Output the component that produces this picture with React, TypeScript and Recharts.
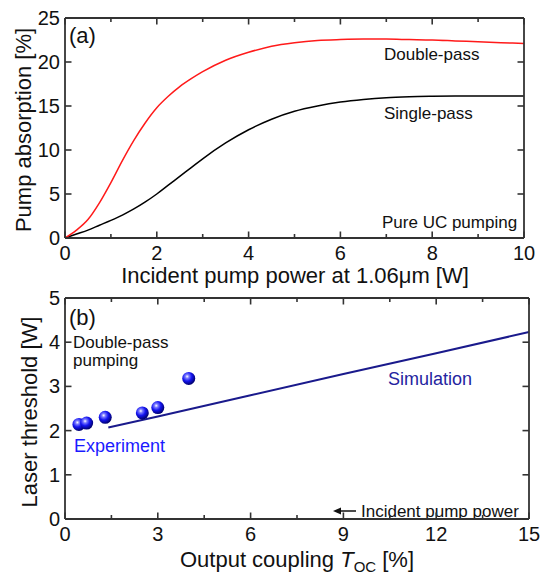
import React from 'react';
import { LineChart, ComposedChart, Line, Scatter, XAxis, YAxis } from 'recharts';

// panel (a): pump absorption vs incident pump power
const pumpPower = [0, 0.25, 0.5, 0.75, 1, 1.25, 1.5, 1.75, 2, 2.25, 2.5, 2.75, 3, 3.5, 4, 4.5, 5, 5.5, 6, 6.5, 7, 7.5, 8, 8.5, 9, 9.5, 10];
const doublePass = [0, 0.9, 2.1, 4.0, 6.3, 8.8, 11.1, 13.1, 14.8, 16.1, 17.2, 18.1, 18.9, 20.2, 21.1, 21.8, 22.2, 22.45, 22.55, 22.6, 22.6, 22.55, 22.5, 22.4, 22.3, 22.2, 22.1];
const singlePass = [0, 0.45, 0.9, 1.45, 2.0, 2.6, 3.3, 4.1, 5.0, 6.0, 7.0, 8.0, 9.0, 10.8, 12.3, 13.5, 14.4, 15.0, 15.45, 15.75, 15.95, 16.05, 16.1, 16.13, 16.15, 16.15, 16.15];
const absXTicks = [0, 1, 2, 3, 4, 5, 6, 7, 8, 9, 10];
const absXMajor = [0, 2, 4, 6, 8, 10];
const absYTicks = [0, 2.5, 5, 7.5, 10, 12.5, 15, 17.5, 20, 22.5, 25];
const absYMajor = [0, 5, 10, 15, 20, 25];

// panel (b): laser threshold vs output coupling
const expCoupling = [0.45, 0.7, 1.3, 2.5, 3.0, 4.0];
const expThreshold = [2.14, 2.17, 2.3, 2.4, 2.52, 3.18];
const simCoupling = [1.4, 3, 6, 9, 12, 15];
const simThreshold = [2.07, 2.32, 2.8, 3.28, 3.75, 4.23];
const thrXTicks = [0, 1.5, 3, 4.5, 6, 7.5, 9, 10.5, 12, 13.5, 15];
const thrXMajor = [0, 3, 6, 9, 12, 15];
const thrYTicks = [0, 0.5, 1, 1.5, 2, 2.5, 3, 3.5, 4, 4.5, 5];
const thrYMajor = [0, 1, 2, 3, 4, 5];

const absData = pumpPower.map((x, i) => ({ x, dp: doublePass[i], sp: singlePass[i] }));
const expData = expCoupling.map((x, i) => ({ x, y: expThreshold[i] }));
const simData = simCoupling.map((x, i) => ({ x, y: simThreshold[i] }));

const FONT = '"Liberation Sans", Arial, sans-serif';
const FRAME = '#333';

const isMajor = (v: number, majors: number[]) => majors.some((m) => Math.abs(m - v) < 1e-6);

// inward tick marks (major/minor); labels only for majors on bottom/left
const makeTick = (side: 'bottom' | 'left' | 'top' | 'right', majors: number[]) => (props: any) => {
  const { x, y, payload } = props;
  const v = payload.value;
  const major = isMajor(v, majors);
  const len = major ? 6.5 : 4;
  let x2 = x;
  let y2 = y;
  if (side === 'bottom') y2 = y - len;
  else if (side === 'top') y2 = y + len;
  else if (side === 'left') x2 = x + len;
  else x2 = x - len;
  let label = null;
  if (major && side === 'bottom') {
    label = (
      <text x={x} y={y + 22} textAnchor="middle" fontSize={20} fontFamily={FONT} fill="#111">
        {v}
      </text>
    );
  } else if (major && side === 'left') {
    label = (
      <text x={x - 5} y={y + 7} textAnchor="end" fontSize={20} fontFamily={FONT} fill="#111">
        {v}
      </text>
    );
  }
  return (
    <g>
      <line x1={x} y1={y} x2={x2} y2={y2} stroke={FRAME} strokeWidth={1.6} />
      {label}
    </g>
  );
};

const Sphere = (props: any) => {
  const { cx, cy } = props;
  return <circle cx={cx} cy={cy} r={6.5} fill="url(#sphereGrad)" />;
};

const frameLine = { stroke: FRAME, strokeWidth: 1.8 };

export default function App() {
  const txt = { fontFamily: FONT, fill: '#111' };
  return (
    <div style={{ position: 'absolute', left: 0, top: 0, width: 540, height: 574, background: '#fff' }}>
      <svg width={540} height={574} style={{ position: 'absolute', left: 0, top: 0 }}>
        <defs>
          <radialGradient id="sphereGrad" cx="38%" cy="35%" r="65%">
            <stop offset="0%" stopColor="#ffffff" />
            <stop offset="22%" stopColor="#7a7aff" />
            <stop offset="55%" stopColor="#1414f0" />
            <stop offset="100%" stopColor="#00006e" />
          </radialGradient>
        </defs>
        {/* panel (a) texts */}
        <text x={69} y={43} fontSize={22} {...txt}>(a)</text>
        <text x={384} y={60} fontSize={17} {...txt}>Double-pass</text>
        <text x={384} y={119} fontSize={17} {...txt}>Single-pass</text>
        <text x={382} y={228} fontSize={17} {...txt}>Pure UC pumping</text>
        <text x={295} y={283} fontSize={22} textAnchor="middle" {...txt}>
          Incident pump power at 1.06μm [W]
        </text>
        <text x={31} y={130} fontSize={22} textAnchor="middle" transform="rotate(-90 31 130)" {...txt}>
          Pump absorption [%]
        </text>
        {/* panel (b) texts */}
        <text x={69} y={325} fontSize={22} {...txt}>(b)</text>
        <text x={73} y={348} fontSize={17} {...txt}>Double-pass</text>
        <text x={73} y={366} fontSize={17} {...txt}>pumping</text>
        <text x={388} y={385} fontSize={18} fontFamily={FONT} fill="#2424a0">Simulation</text>
        <text x={74} y={452} fontSize={18} fontFamily={FONT} fill="#1a1aff">Experiment</text>
        <line x1={356} y1={511} x2={340} y2={511} stroke="#111" strokeWidth={1.5} />
        <polygon points="333,511 341,507.5 341,514.5" fill="#111" />
        <text x={361} y={517} fontSize={17} {...txt}>Incident pump power</text>
        <text x={297} y={567} fontSize={22} textAnchor="middle" {...txt}>
          Output coupling <tspan fontStyle="italic">T</tspan>
          <tspan fontSize={15} dy={5}>OC</tspan>
          <tspan dy={-5}> [%]</tspan>
        </text>
        <text x={37} y={412} fontSize={22} textAnchor="middle" transform="rotate(-90 37 412)" {...txt}>
          Laser threshold [W]
        </text>
      </svg>
      <div style={{ position: 'absolute', left: 0, top: 0 }}>
        <LineChart width={540} height={290} data={absData} margin={{ top: 15, right: 14, bottom: 0, left: 0 }}>
          <XAxis dataKey="x" type="number" domain={[0, 10]} ticks={absXTicks} height={52} tickSize={0} tickMargin={0} tickLine={false} axisLine={frameLine} tick={makeTick('bottom', absXMajor)} />
          <XAxis xAxisId="top" orientation="top" dataKey="x" type="number" domain={[0, 10]} ticks={absXTicks} height={3} tickSize={0} tickMargin={0} tickLine={false} axisLine={frameLine} tick={makeTick('top', absXMajor)} />
          <YAxis type="number" domain={[0, 25]} ticks={absYTicks} width={65} tickSize={0} tickMargin={0} tickLine={false} axisLine={frameLine} tick={makeTick('left', absYMajor)} />
          <YAxis yAxisId="right" orientation="right" type="number" domain={[0, 25]} ticks={absYTicks} width={2} tickSize={0} tickMargin={0} tickLine={false} axisLine={frameLine} tick={makeTick('right', absYMajor)} />
          <Line type="monotone" dataKey="sp" stroke="#000" strokeWidth={1.5} dot={false} isAnimationActive={false} />
          <Line xAxisId="top" yAxisId="right" type="monotone" dataKey="dp" stroke="#ff1a1a" strokeWidth={1.5} dot={false} isAnimationActive={false} />
        </LineChart>
      </div>
      <div style={{ position: 'absolute', left: 0, top: 280 }}>
        <ComposedChart width={540} height={294} margin={{ top: 15, right: 9, bottom: 0, left: 0 }}>
          <XAxis dataKey="x" type="number" domain={[0, 15]} ticks={thrXTicks} height={55} tickSize={0} tickMargin={0} tickLine={false} axisLine={frameLine} tick={makeTick('bottom', thrXMajor)} />
          <XAxis xAxisId="top" orientation="top" dataKey="x" type="number" domain={[0, 15]} ticks={thrXTicks} height={3} tickSize={0} tickMargin={0} tickLine={false} axisLine={frameLine} tick={makeTick('top', thrXMajor)} />
          <YAxis type="number" domain={[0, 5]} ticks={thrYTicks} width={65} tickSize={0} tickMargin={0} tickLine={false} axisLine={frameLine} tick={makeTick('left', thrYMajor)} />
          <YAxis yAxisId="right" orientation="right" type="number" domain={[0, 5]} ticks={thrYTicks} width={2} tickSize={0} tickMargin={0} tickLine={false} axisLine={frameLine} tick={makeTick('right', thrYMajor)} />
          <Line data={simData} dataKey="y" type="linear" stroke="#1a1a8c" strokeWidth={2} dot={false} isAnimationActive={false} />
          <Scatter xAxisId="top" yAxisId="right" data={expData} dataKey="y" shape={<Sphere />} isAnimationActive={false} />
        </ComposedChart>
      </div>
    </div>
  );
}
